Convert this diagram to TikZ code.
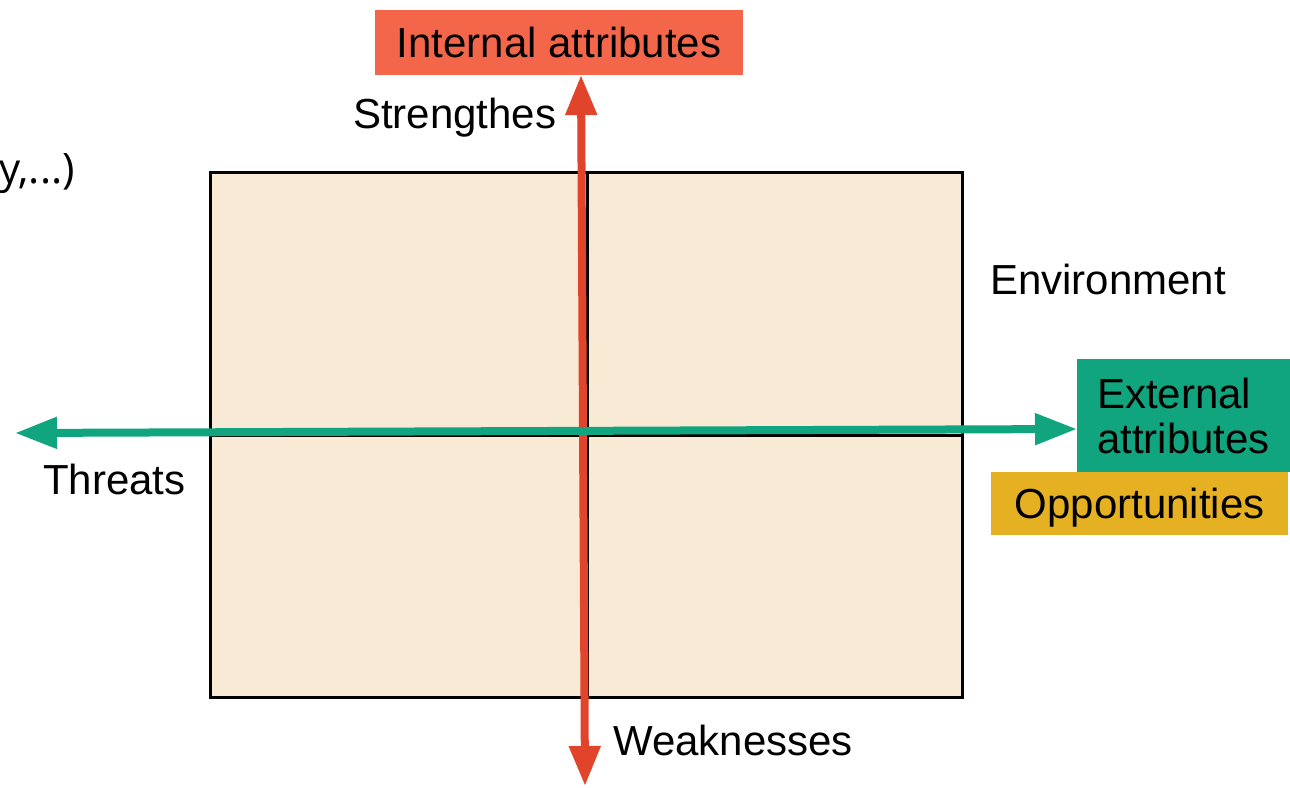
\documentclass[tikz,border=0pt]{standalone}
\usepackage{fontspec}
\setmainfont{Liberation Sans}
\newfontfamily\cutfont{Open Sans}
\usetikzlibrary{arrows.meta}
\definecolor{envfill}{HTML}{F9EAD6}
\definecolor{intred}{HTML}{F3664A}
\definecolor{arrred}{HTML}{E0442A}
\definecolor{extgreen}{HTML}{10A57E}
\definecolor{oppyellow}{HTML}{E5B122}
\tikzset{
  lbl/.style={inner sep=0pt, font=\fontsize{42}{45}\selectfont},
  tagbox/.style={lbl, text height=30pt, text depth=0pt},
  axisred/.style={draw=arrred, line width=8pt, {Triangle[width=30pt,length=40pt]}-{Triangle[width=30pt,length=40pt]}},
  axisgreen/.style={draw=extgreen, line width=8pt, {Triangle[width=30pt,length=42pt]}-{Triangle[width=30pt,length=42pt]}},
}
\begin{document}
\begin{tikzpicture}[x=1pt,y=-1pt]
\useasboundingbox (0,0) rectangle (1290,787);
\clip (0,0) rectangle (1290,787);
\fill[white] (0,0) rectangle (1290,787);

% environment matrix
\node[anchor=north west, fill=envfill, draw=black, line width=3pt, minimum width=752pt, minimum height=525pt, inner sep=0pt] (env) at (209,171) {};
\draw[black, line width=3pt] ([xshift=1pt]env.north) -- ([xshift=1pt]env.south);
\draw[black, line width=3pt] (env.west) -- (env.east);

% cut-off text at left
\node[lbl, font=\cutfont\fontsize{42}{45}\selectfont, anchor=base east] (cut) at (75,183) {gy,...)};

% boxes
\node[tagbox, fill=intred, minimum width=368pt, minimum height=65pt] (int) at (559,42.5) {Internal attributes};
\node[lbl, fill=extgreen, anchor=north west, minimum height=113pt, text width=193pt, inner xsep=20pt, align=left] (ext) at (1077,359) {External\\attributes};
\node[tagbox, fill=oppyellow, anchor=north west, minimum width=297pt, minimum height=63pt] (opp) at (991,472) {Opportunities};

% axes
\coordinate (rtop) at (581,75);
\coordinate (rbot) at (585,786);
\draw[axisred] (rbot) -- (rtop);
\coordinate (gleft) at (15,433);
\coordinate (gright) at (1077,429);
\draw[axisgreen] (gleft) -- (gright);

% labels
\node[lbl, anchor=base west] (str) at (353,128) {Strengthes};
\node[lbl, anchor=base west] (envlbl) at (990,294) {Environment};
\node[lbl, anchor=base west] (thr) at (43,494) {Threats};
\node[lbl, anchor=base west] (weak) at (613,755) {Weaknesses};
\end{tikzpicture}
\end{document}
